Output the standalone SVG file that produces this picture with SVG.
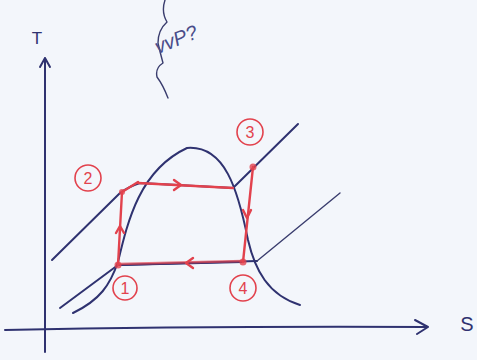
<svg xmlns="http://www.w3.org/2000/svg" width="477" height="360" viewBox="0 0 477 360">
<style>
.ink{fill:none;stroke:#2f3270;stroke-width:2;stroke-linecap:round;stroke-linejoin:round}
.thin{fill:none;stroke:#3a3d6e;stroke-width:1.4;stroke-linecap:round;stroke-linejoin:round}
.red{fill:none;stroke:#e2424d;stroke-width:2.4;stroke-linecap:round;stroke-linejoin:round}
.circ{fill:none;stroke:#e2424d;stroke-width:1.6}
.num{fill:#e2424d;font-family:"Liberation Sans",Arial,sans-serif;font-size:16px;text-anchor:middle}
.lbl{fill:#2f3270;font-family:"Liberation Sans",Arial,sans-serif;text-anchor:middle}
.dot{fill:#e2424d;opacity:0.8}
</style>
<rect width="477" height="360" fill="#f3f6fb"/>
<g id="scribble">
<path class="thin" stroke="#7a7ca8" d="M165 0 Q161 12 167 22 Q158 30 158 43 Q160 52 163 63 Q155 68 157 77 Q163 85 168 98"/>
<text x="158" y="54" font-size="20" fill="#4a4d8a" font-family="'Liberation Sans',Arial,sans-serif" transform="rotate(-22 158 54)" style="font-style:italic">vvP?</text>
</g>
<g id="axes">
<path class="ink" d="M45 352 L45 58 M40 67 L45 58 L50 67"/>
<path class="ink" d="M5 330 Q200 326 428 327 M415 320 L428 327 L417 334"/>
<text class="lbl" x="37" y="44" font-size="17">T</text>
<text class="lbl" x="467" y="331" font-size="20" fill="#3a3d6e">S</text>
</g>
<g id="connectors">
<path class="ink" stroke-width="1.6" d="M73 313 C100 300 110 285 118 262 C128 220 140 170 187 148 C225 145 238 190 248 240 C255 270 268 295 300 305"/>
<path class="ink" stroke-width="1.6" d="M52 260 L120 193 Q130 186 140 183 L233 188 L298 124"/>
<path class="ink" stroke-width="1.6" d="M60 308 L118 265 L257 261"/>
<path class="thin" stroke="#6a6c90" stroke-width="1.2" d="M257 261 L340 193"/>
<path class="ink" stroke-width="2.6" stroke="#4a2f55" d="M118 265 L243 262"/>
<path class="red" stroke-width="1.2" opacity="0.7" d="M118 264 L243 261"/>
<path class="red" d="M118 265 L122 192 L138 182"/>
<path class="red" d="M138 183 L233 188"/>
<path class="red" d="M253 167 L243 262"/>
<path class="red" stroke-width="1.8" d="M116 233 L120 226 L124 233"/>
<path class="red" stroke-width="1.8" d="M174 180 L181 185 L174 190"/>
<path class="red" stroke-width="1.8" d="M243 210 L247 218 L251 210"/>
<path class="red" stroke-width="1.8" d="M193 258 L186 263 L193 268"/>
<circle class="dot" cx="118" cy="265" r="3.5"/>
<circle class="dot" cx="122" cy="192" r="3"/>
<circle class="dot" cx="253" cy="167" r="3.5"/>
<circle class="dot" cx="243" cy="262" r="3.5"/>
</g>
<g id="n1"><circle class="circ" cx="125" cy="288" r="12"/><text class="num" x="125" y="294">1</text></g>
<g id="n2"><circle class="circ" cx="88" cy="178" r="13"/><text class="num" x="88" y="184">2</text></g>
<g id="n3"><circle class="circ" cx="250" cy="132" r="13"/><text class="num" x="250" y="138">3</text></g>
<g id="n4"><circle class="circ" cx="243" cy="288" r="13"/><text class="num" x="243" y="294">4</text></g>
</svg>
